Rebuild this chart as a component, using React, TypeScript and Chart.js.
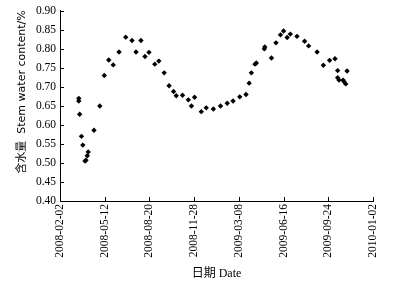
import React, { useEffect, useRef } from 'react';
import { Chart, registerables } from 'chart.js';

Chart.register(...registerables);

// days since 2008-02-02
const days: number[] = [
  42, 42, 44, 48, 51, 56, 58, 61, 63, 76, 89, 99, 109, 119, 132, 147, 161, 170, 181, 190,
  199, 212, 221, 233, 244, 254, 260, 274, 287, 294, 301, 316, 327, 343, 359, 374, 387, 402,
  416, 423, 428, 436, 439, 457, 458, 473, 483, 493, 500, 508, 515, 530, 547, 556, 575, 589,
  603, 615, 621, 621, 624, 633, 635, 639, 642,
];
const waterContent: number[] = [
  0.670, 0.663, 0.628, 0.570, 0.547, 0.505, 0.507, 0.519, 0.529, 0.586, 0.650, 0.730, 0.771,
  0.758, 0.792, 0.831, 0.822, 0.792, 0.822, 0.780, 0.791, 0.760, 0.768, 0.737, 0.703, 0.688,
  0.677, 0.678, 0.666, 0.650, 0.673, 0.635, 0.645, 0.642, 0.650, 0.657, 0.663, 0.674, 0.680,
  0.710, 0.737, 0.760, 0.763, 0.800, 0.805, 0.776, 0.816, 0.837, 0.847, 0.830, 0.839, 0.833,
  0.820, 0.808, 0.792, 0.757, 0.770, 0.774, 0.743, 0.724, 0.718, 0.718, 0.714, 0.708, 0.742,
];
const xTickLabels: string[] = [
  '2008-02-02', '2008-05-12', '2008-08-20', '2008-11-28',
  '2009-03-08', '2009-06-16', '2009-09-24', '2010-01-02',
];
const xTitle = '日期 Date';
const yTitle = '含水量  Stem water content/%';

const inwardTicks = {
  id: 'inwardTicks',
  afterDraw(chart: any) {
    const ctx = chart.ctx;
    const { left, bottom } = chart.chartArea;
    const xs = chart.scales.x;
    const ys = chart.scales.y;
    ctx.save();
    ctx.strokeStyle = '#000';
    ctx.lineWidth = 1;
    ctx.beginPath();
    xs.ticks.forEach((t: any) => {
      const px = Math.round(xs.getPixelForValue(t.value)) + 0.5;
      ctx.moveTo(px, bottom);
      ctx.lineTo(px, bottom - 4);
    });
    ys.ticks.forEach((t: any) => {
      const py = Math.round(ys.getPixelForValue(t.value)) + 0.5;
      ctx.moveTo(left, py);
      ctx.lineTo(left + 4, py);
    });
    ctx.stroke();
    // y title
    ctx.fillStyle = '#000';
    ctx.font = '11px "DejaVu Sans", "Noto Sans CJK SC", sans-serif';
    ctx.textAlign = 'center';
    ctx.textBaseline = 'middle';
    ctx.translate(22, 92);
    ctx.rotate(-Math.PI / 2);
    ctx.fillText(yTitle, 0, 0);
    ctx.restore();
  },
};

export default function App() {
  const ref = useRef<HTMLCanvasElement | null>(null);
  useEffect(() => {
    document.body.style.margin = '0';
    const canvas = ref.current!;
    const chart = new Chart(canvas, {
      type: 'scatter',
      data: {
        datasets: [
          {
            data: days.map((d, i) => ({ x: d, y: waterContent[i] })),
            backgroundColor: '#000',
            borderColor: '#000',
            pointStyle: 'rectRot',
            pointRadius: 2.7,
            borderWidth: 0,
          },
        ],
      },
      options: {
        animation: false,
        responsive: false,
        maintainAspectRatio: false,
        layout: { padding: { left: 0, top: 9, right: 38, bottom: 4 } },
        plugins: { legend: { display: false }, tooltip: { enabled: false } },
        scales: {
          x: {
            type: 'linear',
            min: 0,
            max: 700,
            afterFit: (s: any) => { s.height = 80; },
            afterBuildTicks: (s: any) => {
              s.ticks = xTickLabels.map((_, i) => ({ value: i * 100 }));
            },
            ticks: {
              stepSize: 100,
              minRotation: 90,
              maxRotation: 90,
              padding: 3,
              color: '#000',
              font: { family: '"Liberation Serif", serif', size: 11.5 },
              callback: (v: any) => xTickLabels[Math.round(Number(v) / 100)] ?? '',
            },
            grid: { drawOnChartArea: false, drawTicks: false },
            border: { display: true, color: '#000', width: 1 },
            title: {
              display: true,
              text: xTitle,
              color: '#000',
              font: { family: '"Liberation Serif", "Noto Sans CJK SC", serif', size: 12 },
              padding: { top: 4, bottom: 0 },
            },
          },
          y: {
            type: 'linear',
            min: 0.4,
            max: 0.9,
            afterFit: (s: any) => { s.width = 60; },
            ticks: {
              stepSize: 0.05,
              padding: 4,
              color: '#000',
              font: { family: '"Liberation Serif", serif', size: 11.5 },
              callback: (v: any) => Number(v).toFixed(2),
            },
            grid: { drawOnChartArea: false, drawTicks: false },
            border: { display: true, color: '#000', width: 1 },
          },
        },
      },
      plugins: [inwardTicks],
    });
    return () => chart.destroy();
  }, []);
  return (
    <div style={{ width: 411, height: 285, background: '#fff' }}>
      <canvas ref={ref} width={411} height={285} style={{ display: 'block' }} />
    </div>
  );
}
